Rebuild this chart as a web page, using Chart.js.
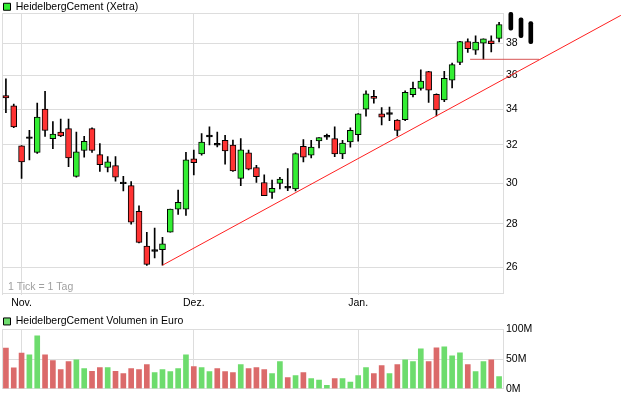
<!DOCTYPE html>
<html>
<head>
<meta charset="utf-8">
<script src="https://cdn.jsdelivr.net/npm/chart.js@4"></script>
<style>
  html, body { margin: 0; padding: 0; background: #fff; }
  #wrap { position: relative; width: 621px; height: 398px; overflow: hidden; }
  canvas { position: absolute; left: 0; }
  #kurs { top: 0; }
  #vol { top: 312px; }
</style>
</head>
<body>
<div id="wrap">
  <canvas id="kurs" width="621" height="312"></canvas>
  <canvas id="vol" width="621" height="86"></canvas>
</div>
<script>
// Tageskerzen 28.10. - 26.01., Werte in EUR
const OPEN  = [34.8, 34.2, 31.95, 32.4, 31.6, 34.0, 32.35, 32.7, 32.9, 30.34,
               31.7, 32.9, 31.48, 30.8, 30.9, 30.02, 29.87, 28.6, 26.96, 26.75,
               26.8, 27.6, 28.7, 28.7, 31.26, 31.52, 32.48, 32.05, 32.25, 32.0,
               30.24, 31.58, 30.8, 30.03, 29.53, 29.98, 29.8, 29.7, 31.93, 31.45,
               32.22, 32.45, 32.35, 31.52, 32.16, 32.57, 34.0, 34.75, 33.74, 33.74,
               33.38, 33.4, 34.85, 35.22, 36.24, 34.87, 34.54, 35.72, 36.8, 38.13,
               37.57, 38.02, 38.17, 38.34];
const HIGH  = [35.8, 34.3, 31.97, 32.8, 34.35, 35.05, 33.3, 33.43, 33.43, 32.7,
               32.47, 32.95, 32.07, 31.37, 31.37, 30.34, 30.08, 28.87, 27.6, 27.8,
               27.36, 28.71, 29.65, 31.6, 31.72, 32.62, 33.0, 32.7, 32.53, 32.27,
               32.35, 31.72, 30.92, 30.42, 30.15, 30.29, 30.75, 31.58, 32.3, 32.25,
               32.4, 32.6, 33.0, 32.25, 32.94, 33.75, 35.07, 35.1, 34.1, 34.12,
               33.4, 35.07, 35.6, 36.34, 36.26, 34.9, 36.26, 36.77, 38.15, 38.3,
               38.5, 38.3, 38.5, 39.4];
const LOW   = [33.8, 32.95, 30.24, 31.2, 31.55, 32.47, 31.8, 32.45, 30.85, 30.3,
               31.35, 31.6, 30.6, 30.57, 30.1, 29.6, 27.98, 27.1, 26.09, 26.42,
               26.1, 27.6, 28.45, 28.4, 30.42, 31.45, 32.0, 31.9, 30.97, 30.6,
               29.87, 30.68, 30.03, 29.36, 29.23, 29.7, 29.62, 29.6, 31.1, 31.3,
               31.84, 32.3, 31.37, 31.27, 31.88, 32.2, 33.6, 34.35, 33.1, 33.35,
               32.5, 33.35, 34.72, 35.12, 34.4, 33.62, 34.43, 35.25, 36.67, 37.43,
               37.3, 37.0, 37.46, 38.1];
const CLOSE = [34.65, 33.0, 31.1, 32.4, 33.55, 32.8, 32.6, 32.5, 31.3, 31.63,
               32.2, 31.7, 30.95, 31.1, 30.3, 30.0, 28.07, 27.13, 26.14, 26.77,
               27.06, 28.71, 29.04, 31.2, 31.05, 32.16, 32.5, 32.02, 31.68, 30.62,
               31.74, 30.71, 30.33, 29.36, 29.73, 30.2, 29.78, 31.53, 31.35, 31.88,
               32.4, 32.5, 31.52, 32.1, 32.8, 33.73, 34.9, 34.62, 33.55, 33.76,
               32.8, 34.98, 35.22, 35.66, 35.12, 33.96, 35.82, 36.67, 38.13, 37.68,
               38.1, 38.3, 38.0, 39.25];
// Umsatz in Mio. EUR
const VOLUME = [68.3, 35, 60, 57.2, 88.8, 57.2, 47.2, 32.2, 45.5, 48.8,
                33.8, 29.4, 35.5, 35.5, 29.4, 25.5, 33.8, 32.2, 40.5, 27.2,
                32.2, 28.8, 33.8, 57.2, 37.2, 35.5, 28.8, 33.8, 28.8, 27.2,
                40.5, 33.8, 35.5, 32.2, 25.5, 45.5, 18.8, 22.2, 27.2, 17.2,
                14.4, 5.5, 17.2, 17.2, 11, 22.2, 35.5, 25.5, 38.8, 25.5,
                40.5, 48.8, 45.5, 67.2, 45.5, 68.8, 70.5, 55.5, 60.5, 40.5,
                28.8, 45.5, 48.8, 20.5];

const MONTH_POS = [2, 24, 45];
const MONTH_LABELS = ['Nov.', 'Dez.', 'Jan.'];
const PRICE_TICKS = [26, 28, 30, 32, 34, 36, 38, 40];
const VOL_TICKS = [0, 50, 100];

// Trendlinie und Unterstuetzung
const TREND_X = [20, 78.55];
const TREND_Y = [26.1, 39.86];
const SUPPORT_X = [59.3, 68.1];
const SUPPORT_Y = [37, 37];

// die drei schwarzen Balken rechts oben
const MARK_X = [64.5, 65.8, 67.05];
const MARK_LOW = [38.87, 38.38, 38.0];
const MARK_HIGH = [40.07, 39.7, 39.45];

const PRICE_LABEL = 'HeidelbergCement (Xetra)';
const VOL_LABEL = 'HeidelbergCement Volumen in Euro';
const NOTE = '1 Tick = 1 Tag';

const GREEN = '#33ee33';
const RED = '#ff3333';
const VOL_GREEN = '#6ddc6d';
const VOL_RED = '#db6a6a';
const GRID = '#dddddd';
const FONT = "'Liberation Sans', Arial, sans-serif";

Chart.defaults.font.family = FONT;
Chart.defaults.font.size = 10.5;
Chart.defaults.color = '#000';

const idx = CLOSE.map((_, i) => i);
const isDoji = i => Math.abs(CLOSE[i] - OPEN[i]) / OPEN[i] < 0.003;

const bodies = idx.map(i => {
  if (isDoji(i)) {
    const m = (OPEN[i] + CLOSE[i]) / 2;
    return {x: i, y: [m * 0.9985, m * 1.0015]};
  }
  return {x: i, y: [Math.min(OPEN[i], CLOSE[i]), Math.max(OPEN[i], CLOSE[i])]};
});
const bodyColors = idx.map(i => isDoji(i) ? '#000' : (CLOSE[i] > OPEN[i] ? GREEN : RED));
const wicks = idx.map(i => ({x: i, y: [LOW[i], HIGH[i]]}));
const marks = MARK_X.map((x, k) => ({x: x, y: [MARK_LOW[k], MARK_HIGH[k]]}));

const volColors = idx.map(i => {
  const prev = i === 0 ? OPEN[0] : CLOSE[i - 1];
  return CLOSE[i] >= prev ? VOL_GREEN : VOL_RED;
});

const monthLabel = v => {
  const k = MONTH_POS.indexOf(v);
  return k < 0 ? '' : MONTH_LABELS[k];
};

const xScale = (height, showLabels) => ({
  type: 'linear',
  min: -0.5,
  max: 63.5,
  offset: false,
  afterBuildTicks: s => { s.ticks = [-0.5, ...MONTH_POS].map(v => ({value: v})); },
  afterFit: s => { s.height = height; },
  ticks: {display: showLabels, callback: monthLabel, autoSkip: false, maxRotation: 0, padding: 2},
  grid: {color: GRID, offset: false, drawTicks: showLabels, tickLength: 2},
  border: {color: GRID}
});

const tickNote = {
  id: 'tickNote',
  afterDraw(chart) {
    const {ctx, chartArea} = chart;
    ctx.save();
    ctx.font = '10.5px ' + FONT;
    ctx.fillStyle = '#a0a0a0';
    ctx.textBaseline = 'middle';
    ctx.fillText(NOTE, chartArea.left + 6, chartArea.bottom - 6);
    ctx.restore();
  }
};

new Chart(document.getElementById('kurs'), {
  type: 'bar',
  data: {
    datasets: [
      {
        type: 'line',
        data: TREND_X.map((x, k) => ({x: x, y: TREND_Y[k]})),
        borderColor: '#ff2020',
        borderWidth: 1,
        pointRadius: 0,
        clip: false,
        order: 0
      },
      {
        type: 'line',
        data: SUPPORT_X.map((x, k) => ({x: x, y: SUPPORT_Y[k]})),
        borderColor: '#d85555',
        borderWidth: 1,
        pointRadius: 0,
        clip: false,
        order: 0
      },
      {
        data: bodies,
        backgroundColor: bodyColors,
        borderColor: '#000',
        borderWidth: 1,
        borderSkipped: false,
        barThickness: 6,
        grouped: false,
        order: 1
      },
      {
        data: wicks,
        backgroundColor: '#000',
        barThickness: 1,
        grouped: false,
        order: 2
      },
      {
        data: marks,
        backgroundColor: '#000',
        barThickness: 4,
        borderRadius: 2,
        borderSkipped: false,
        grouped: false,
        clip: false,
        order: 1
      }
    ]
  },
  options: {
    responsive: false,
    animation: false,
    devicePixelRatio: 1,
    events: [],
    layout: {padding: {left: 2, top: 0, right: 0, bottom: 0}},
    scales: {
      x: xScale(19, true),
      y: {
        type: 'logarithmic',
        position: 'right',
        min: 24.9,
        max: 40,
        afterBuildTicks: s => { s.ticks = PRICE_TICKS.map(v => ({value: v})); },
        afterFit: s => { s.width = 118; },
        ticks: {callback: v => v >= 40 ? '' : String(v), padding: 3},
        grid: {color: GRID, drawTicks: false},
        border: {color: GRID}
      }
    },
    plugins: {
      legend: {
        position: 'top',
        align: 'start',
        maxHeight: 13.3,
        labels: {
          boxWidth: 7,
          boxHeight: 7,
          padding: 1.5,
          generateLabels: () => [{text: PRICE_LABEL, fillStyle: GREEN, strokeStyle: '#000', lineWidth: 1, datasetIndex: 2}]
        }
      },
      tooltip: {enabled: false}
    }
  },
  plugins: [tickNote]
});

new Chart(document.getElementById('vol'), {
  type: 'bar',
  data: {
    datasets: [{
      data: VOLUME.map((v, i) => ({x: i, y: v})),
      backgroundColor: volColors,
      barThickness: 5,
      grouped: false
    }]
  },
  options: {
    responsive: false,
    animation: false,
    devicePixelRatio: 1,
    events: [],
    layout: {padding: {left: 2, top: 2.7, right: 0, bottom: 0}},
    scales: {
      x: xScale(9, false),
      y: {
        type: 'linear',
        position: 'right',
        min: 0,
        max: 100,
        afterBuildTicks: s => { s.ticks = VOL_TICKS.map(v => ({value: v})); },
        afterFit: s => { s.width = 118; },
        ticks: {callback: v => v + 'M', padding: 3},
        grid: {color: GRID, drawTicks: false},
        border: {color: GRID}
      }
    },
    plugins: {
      legend: {
        position: 'top',
        align: 'start',
        maxHeight: 14.6,
        labels: {
          boxWidth: 7,
          boxHeight: 7,
          padding: 1.5,
          generateLabels: () => [{text: VOL_LABEL, fillStyle: VOL_GREEN, strokeStyle: '#000', lineWidth: 1, datasetIndex: 0}]
        }
      },
      tooltip: {enabled: false}
    }
  }
});
</script>
</body>
</html>
